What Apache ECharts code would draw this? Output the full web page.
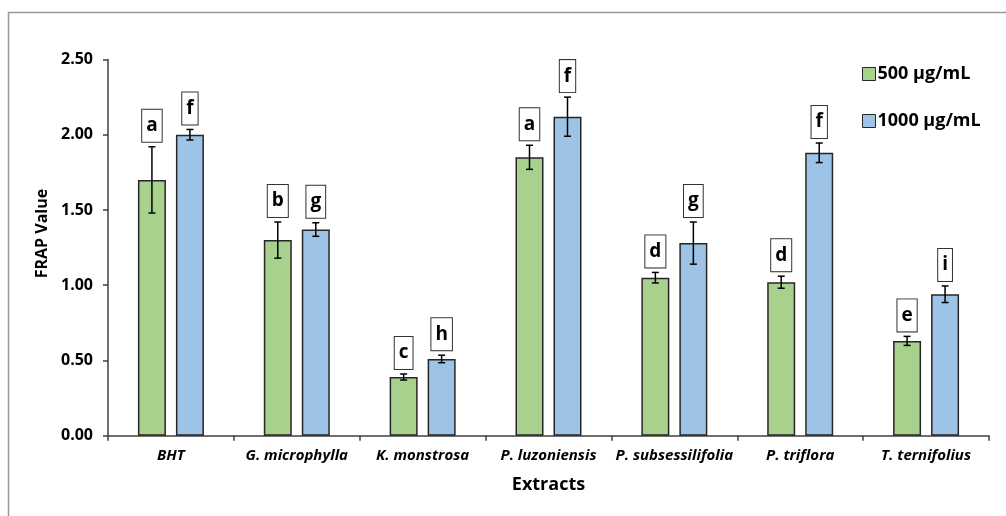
<!DOCTYPE html>
<html>
<head>
<meta charset="utf-8">
<script src="https://cdn.jsdelivr.net/npm/echarts@6/dist/echarts.min.js"></script>
<style>
html,body{margin:0;padding:0;background:#fff;}
#chart{width:1006px;height:516px;}
</style>
</head>
<body>
<div id="chart"></div>
<script>
// ---- data ----
const categories = ['BHT', 'G. microphylla', 'K. monstrosa', 'P. luzoniensis', 'P. subsessilifolia', 'P. triflora', 'T. ternifolius'];
const seriesNames = ['500 µg/mL', '1000 µg/mL'];
const values500 = [1.70, 1.30, 0.39, 1.85, 1.05, 1.02, 0.63];
const errors500 = [0.22, 0.12, 0.02, 0.08, 0.035, 0.04, 0.03];
const letters500 = ['a', 'b', 'c', 'a', 'd', 'd', 'e'];
const values1000 = [2.00, 1.37, 0.51, 2.12, 1.28, 1.88, 0.94];
const errors1000 = [0.035, 0.045, 0.025, 0.13, 0.14, 0.065, 0.055];
const letters1000 = ['f', 'g', 'h', 'f', 'g', 'f', 'i'];
const yTicks = [0, 0.5, 1.0, 1.5, 2.0, 2.5];

// ---- styles ----
const FONT = '"Open Sans", Lato, sans-serif';
const BAR_W = 28;
const BAR_GAP_PX = 10;
const colors = ['#A9D18E', '#9DC3E6'];

function errSeries(vals, errs, letters, side) {
  const data = vals.map((v, i) => [i, v, errs[i]]);
  return {
    type: 'custom',
    name: seriesNames[side < 0 ? 0 : 1] + ' err',
    z: 5,
    data: data,
    encode: { x: 0, y: 1 },
    renderItem: function (params, api) {
      const i = api.value(0);
      const v = api.value(1);
      const e = api.value(2);
      const off = side * (BAR_W + BAR_GAP_PX) / 2;
      const top = api.coord([i, v + e]);
      const bot = api.coord([i, v - e]);
      const x = top[0] + off;
      const cap = 3.5;
      const st = { stroke: '#000', lineWidth: 1.5 };
      return {
        type: 'group',
        children: [
          { type: 'line', shape: { x1: x, y1: top[1], x2: x, y2: bot[1] }, style: st },
          { type: 'line', shape: { x1: x - cap, y1: top[1], x2: x + cap, y2: top[1] }, style: st },
          { type: 'line', shape: { x1: x - cap, y1: bot[1], x2: x + cap, y2: bot[1] }, style: st },
          {
            type: 'text',
            x: x, y: top[1] - 5,
            style: {
              text: letters[params.dataIndex],
              align: 'center', verticalAlign: 'bottom',
              font: 'bold 19px ' + FONT,
              lineHeight: 24,
              fill: '#000',
              backgroundColor: '#fff',
              borderColor: '#333',
              borderWidth: 1,
              padding: [4, 4, 4, 4]
            }
          }
        ]
      };
    }
  };
}

const chart = echarts.init(document.getElementById('chart'), null, { renderer: 'canvas' });
chart.setOption({
  animation: false,
  backgroundColor: '#fff',
  grid: { left: 108, right: 17, top: 59.5, bottom: 80.3, containLabel: false },
  graphic: [
    { type: 'polyline', shape: { points: [[8.5, 516], [8.5, 12.5], [1006, 12.5]] }, style: { stroke: '#999', lineWidth: 1.5, fill: null } }
  ],
  legend: {
    orient: 'vertical',
    left: 857, top: 60,
    itemWidth: 13, itemHeight: 13, itemGap: 29,
    icon: 'rect',
    data: seriesNames,
    textStyle: { fontFamily: FONT, fontWeight: 'bold', fontSize: 18, color: '#000', padding: [0, 0, 0, -3] },
    itemStyle: { borderColor: '#262626', borderWidth: 1 }
  },
  xAxis: {
    type: 'category',
    data: categories,
    name: 'Extracts',
    nameLocation: 'middle',
    nameGap: 40,
    nameTextStyle: { fontFamily: FONT, fontWeight: 'bold', fontSize: 18, color: '#000' },
    axisLine: { lineStyle: { color: '#404040', width: 1.5 } },
    axisTick: { show: true, length: 5, lineStyle: { color: '#404040', width: 1.5 } },
    axisLabel: { interval: 0, hideOverlap: false, fontFamily: FONT, fontStyle: 'italic', fontWeight: 'bold', fontSize: 15, color: '#000', margin: 13 }
  },
  yAxis: {
    type: 'value',
    min: yTicks[0], max: yTicks[yTicks.length - 1], interval: yTicks[1] - yTicks[0],
    name: 'FRAP Value',
    nameLocation: 'middle',
    nameGap: 54,
    nameRotate: 90,
    nameTextStyle: { fontFamily: FONT, fontWeight: 'bold', fontSize: 16, color: '#000', padding: [0, 0, 0, 28] },
    axisLine: { show: true, lineStyle: { color: '#404040', width: 1.5 } },
    axisTick: { show: true, length: 5, lineStyle: { color: '#404040', width: 1.5 } },
    splitLine: { show: false },
    axisLabel: { fontFamily: FONT, fontWeight: 'bold', fontSize: 16, color: '#000', margin: 15, formatter: v => v.toFixed(2) }
  },
  series: [
    {
      type: 'bar', name: seriesNames[0], data: values500,
      barWidth: BAR_W, barGap: (BAR_GAP_PX / BAR_W * 100) + '%',
      itemStyle: { color: colors[0], borderColor: '#262626', borderWidth: 1.5 }
    },
    {
      type: 'bar', name: seriesNames[1], data: values1000,
      barWidth: BAR_W, barGap: (BAR_GAP_PX / BAR_W * 100) + '%',
      itemStyle: { color: colors[1], borderColor: '#262626', borderWidth: 1.5 }
    },
    errSeries(values500, errors500, letters500, -1),
    errSeries(values1000, errors1000, letters1000, 1)
  ]
});
</script>
</body>
</html>
